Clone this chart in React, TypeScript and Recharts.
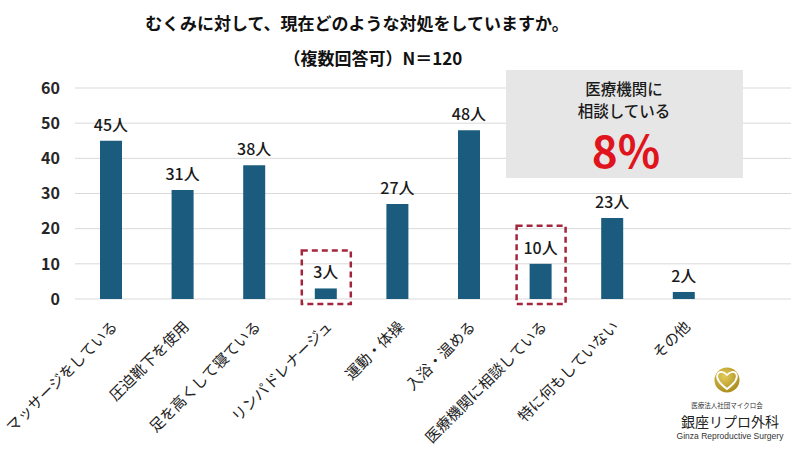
import React from 'react';
import { BarChart, Bar, XAxis, YAxis, CartesianGrid, LabelList } from 'recharts';

// Survey: current measures against swelling (multiple answers)
const categories = [
  'マッサージをしている',
  '圧迫靴下を使用',
  '足を高くして寝ている',
  'リンパドレナージュ',
  '運動・体操',
  '入浴・温める',
  '医療機関に相談している',
  '特に何もしていない',
  'その他',
];
const counts = [45, 31, 38, 3, 27, 48, 10, 23, 2];
const highlighted = ['リンパドレナージュ', '医療機関に相談している'];
const yTicks = [0, 10, 20, 30, 40, 50, 60];
const respondents = 120;
const unit = '人';
const consultCategory = '医療機関に相談している';

const data = categories.map((name, i) => ({ name, value: counts[i] }));
const consultCount = counts[categories.indexOf(consultCategory)];
const consultPct = Math.round((consultCount / respondents) * 100);

const FONT = "'Noto Sans CJK JP', 'Noto Sans', sans-serif";
const BAR_COLOR = '#1b5b7e';
const ACCENT = '#a3263c';

const XTick = (props: any) => {
  const { x, y, payload } = props;
  return (
    <text
      x={x + 3}
      y={y + 16}
      textAnchor="end"
      dominantBaseline="central"
      transform={`rotate(-45, ${x + 3}, ${y + 16})`}
      fontSize={15}
      fontFamily={FONT}
      fill="#222"
    >
      {payload.value}
    </text>
  );
};

const ValueLabel = (props: any) => {
  const { x, y, width, height, value, index } = props;
  const cx = x + width / 2;
  const isHl = highlighted.includes(categories[index]);
  const bottom = y + height;
  return (
    <g>
      {isHl && (
        <rect
          x={x - 13}
          y={y - 38}
          width={width + 27}
          height={bottom - y + 43}
          fill="none"
          stroke={ACCENT}
          strokeWidth={2.5}
          strokeDasharray="6 4"
        />
      )}
      <text
        x={cx}
        y={y - 10}
        textAnchor="middle"
        fontSize={16}
        fontWeight={500}
        fontFamily={FONT}
        fill="#1a1a1a"
      >
        {value}
        {unit}
      </text>
    </g>
  );
};

export default function App() {
  return (
    <div style={{ position: 'absolute', left: 0, top: 0, width: 800, height: 450, background: '#fff' }}>
      <BarChart
        width={800}
        height={450}
        data={data}
        margin={{ top: 88, right: 9, left: 0, bottom: 0 }}
      >
        <CartesianGrid vertical={false} stroke="#d9d9d9" strokeWidth={1} />
        <XAxis
          dataKey="name"
          interval={0}
          height={151}
          axisLine={false}
          tickLine={false}
          tick={<XTick />}
          padding={{ left: 0, right: 71.6 }}
        />
        <YAxis
          domain={[0, 60]}
          ticks={yTicks}
          width={75}
          axisLine={false}
          tickLine={false}
          tickSize={0}
          tickMargin={15}
          tick={{ fontSize: 16, fontWeight: 600, fill: '#262626', fontFamily: FONT }}
        />
        <Bar dataKey="value" fill={BAR_COLOR} barSize={22} isAnimationActive={false}>
          <LabelList dataKey="value" content={<ValueLabel />} />
        </Bar>
      </BarChart>

      <svg
        width={800}
        height={450}
        style={{ position: 'absolute', left: 0, top: 0, pointerEvents: 'none' }}
      >
        <defs>
          <radialGradient id="logoGold" cx="40%" cy="35%" r="70%">
            <stop offset="0%" stopColor="#e2cb5a" />
            <stop offset="100%" stopColor="#a88a1a" />
          </radialGradient>
        </defs>

        {/* Title */}
        <text x={357} y={22} textAnchor="middle" dominantBaseline="central" fontSize={17} fontWeight={700} fontFamily={FONT} fill="#111">
          むくみに対して、現在どのような対処をしていますか。
        </text>
        <text x={373} y={57} textAnchor="middle" dominantBaseline="central" fontSize={17} fontWeight={700} fontFamily={FONT} fill="#111">
          （複数回答可）N＝{respondents}
        </text>

        {/* Callout box */}
        <rect x={506} y={70} width={237} height={108} fill="#e6e6e6" />
        <text x={624} y={88} textAnchor="middle" dominantBaseline="central" fontSize={15.5} fontWeight={500} fontFamily={FONT} fill="#1a1a1a">
          医療機関に
        </text>
        <text x={624} y={110} textAnchor="middle" dominantBaseline="central" fontSize={15.5} fontWeight={500} fontFamily={FONT} fill="#1a1a1a">
          相談している
        </text>
        <text x={626} y={149} textAnchor="middle" dominantBaseline="central" fontSize={44} fontWeight={700} fontFamily={FONT} fill="#e0141c">
          {consultPct}%
        </text>

        {/* Clinic logo */}
        <circle cx={727} cy={380} r={12.5} fill="url(#logoGold)" />
        <path
          d="M727 389 C719 383 716 378 717.5 374.5 C719 371 723.5 371 727 375 C730.5 371 735 371 736.5 374.5 C738 378 735 383 727 389 Z"
          fill="none"
          stroke="#fff"
          strokeWidth={1.8}
        />
        <text x={727} y={405} textAnchor="middle" dominantBaseline="central" fontSize={6.5} fontFamily={FONT} fill="#333">
          医療法人社団マイクロ会
        </text>
        <text x={730} y={421} textAnchor="middle" dominantBaseline="central" fontSize={14} fontFamily={FONT} fill="#222">
          銀座リプロ外科
        </text>
        <text x={730} y={436} textAnchor="middle" dominantBaseline="central" fontSize={8.5} fontFamily="'Liberation Sans', Arial, sans-serif" fill="#333">
          Ginza Reproductive Surgery
        </text>
      </svg>
    </div>
  );
}
